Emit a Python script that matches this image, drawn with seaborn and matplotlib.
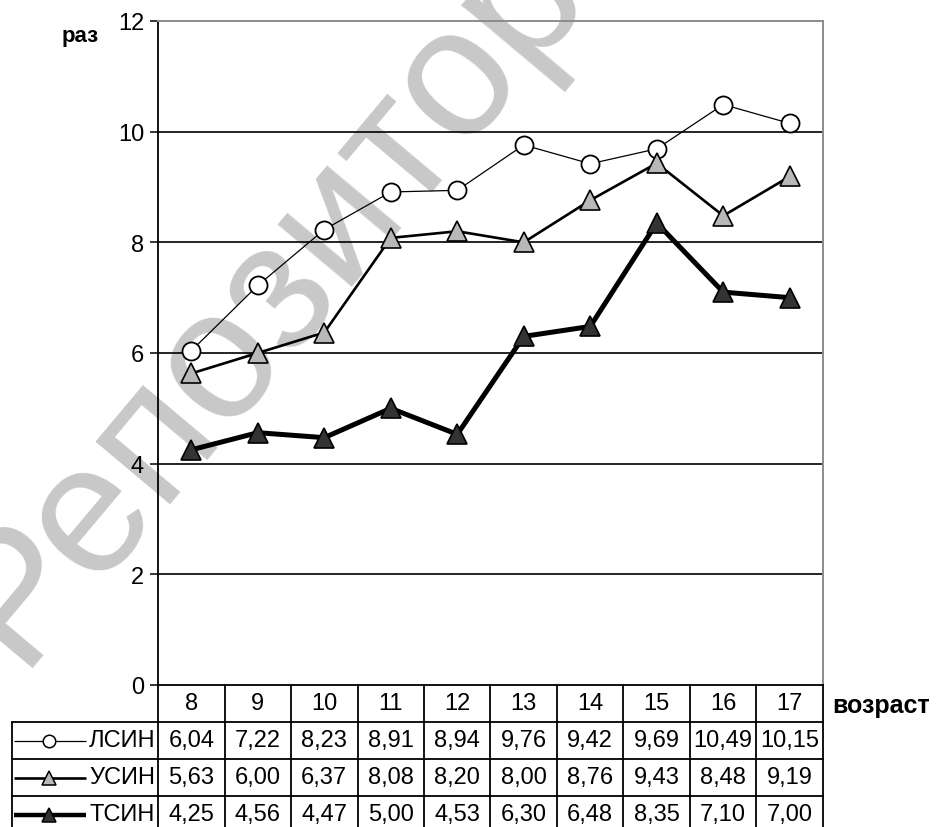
import matplotlib
matplotlib.use("Agg")
import matplotlib.pyplot as plt
import seaborn as sns
import pandas as pd

# --- data -------------------------------------------------------------
ages = [8, 9, 10, 11, 12, 13, 14, 15, 16, 17]
lsin = [6.04, 7.22, 8.23, 8.91, 8.94, 9.76, 9.42, 9.69, 10.49, 10.15]
usin = [5.63, 6.00, 6.37, 8.08, 8.20, 8.00, 8.76, 9.43, 8.48, 9.19]
tsin = [4.25, 4.56, 4.47, 5.00, 4.53, 6.30, 6.48, 8.35, 7.10, 7.00]
series_names = ["ЛСИН", "УСИН", "ТСИН"]
y_ticks = [0, 2, 4, 6, 8, 10, 12]
y_label = "раз"
x_label = "возраст"

df = pd.DataFrame({"age": ages, "ЛСИН": lsin, "УСИН": usin, "ТСИН": tsin})

sns.set_theme(style="white")
plt.rcParams["font.family"] = ["Liberation Sans", "DejaVu Sans"]

W, H = 943, 828
fig = plt.figure(figsize=(W / 100, H / 100), dpi=100)
fig.patch.set_facecolor("white")

def px_box(x0, y0, x1, y1):
    return [x0 / W, 1 - y1 / H, (x1 - x0) / W, (y1 - y0) / H]

# series styling
styles = {
    "ЛСИН": dict(color="black", lw=0.9, marker="o", ms=13, mfc="white", mew=1.3, glyph_ms=9, glyph_lw=0.9),
    "УСИН": dict(color="black", lw=1.9, marker="^", ms=14, mfc="#b8b8b8", mew=1.2, glyph_ms=10, glyph_lw=1.9),
    "ТСИН": dict(color="black", lw=3.6, marker="^", ms=14, mfc="#333333", mew=1.2, glyph_ms=10, glyph_lw=3.2),
}

# --- main plot --------------------------------------------------------
ax = fig.add_axes(px_box(158, 22, 823, 686))
ax.set_facecolor("none")
for name in series_names:
    st = styles[name]
    sns.lineplot(data=df, x="age", y=name, ax=ax, color=st["color"], lw=st["lw"],
                 marker=st["marker"], markersize=st["ms"], markerfacecolor=st["mfc"],
                 markeredgecolor="black", markeredgewidth=st["mew"], zorder=3)

ax.set_xlim(ages[0] - 0.5, ages[-1] + 0.5)
ax.set_ylim(y_ticks[0], y_ticks[-1])
ax.set_yticks(y_ticks)
ax.set_yticklabels([str(t) for t in y_ticks], fontsize=17, color="black")
ax.set_xticks([])
ax.set_xlabel("")
ax.set_ylabel("")
for y in y_ticks[1:-1]:
    ax.axhline(y, color="black", lw=1.2, zorder=1)
ax.tick_params(axis="y", length=6, width=1.1, color="black", pad=4, left=True)
ax.spines["left"].set_color("black")
ax.spines["left"].set_linewidth(1.3)
ax.spines["bottom"].set_color("black")
ax.spines["bottom"].set_linewidth(1.3)
ax.spines["top"].set_color("#8c8c8c")
ax.spines["top"].set_linewidth(1.4)
ax.spines["right"].set_color("#8c8c8c")
ax.spines["right"].set_linewidth(1.4)

fig.text(80 / W, 1 - 42 / H, y_label, ha="center", va="baseline",
         fontsize=16, fontweight="bold", color="black")
fig.text(832 / W, 1 - 713 / H, x_label, ha="left", va="baseline",
         fontsize=18, fontweight="bold", color="black")

# --- data table under the plot ---------------------------------------
tab = fig.add_axes(px_box(158, 686, 823, 834))
tab.set_facecolor("none")
tab.set_xlim(ages[0] - 0.5, ages[-1] + 0.5)
tab.set_ylim(4, 0)
tab.axis("off")

col_w_px = 665 / len(ages)
def px_to_x(px):
    return ages[0] - 0.5 + (px - 158) / col_w_px

x_left = px_to_x(12)
x_right = ages[-1] + 0.5
lkw = dict(color="black", lw=1.3, clip_on=False)
for k in range(len(ages) + 1):
    xv = ages[0] - 0.5 + k
    tab.plot([xv, xv], [0, 4], **lkw)
tab.plot([x_left, x_left], [1, 4], **lkw)
for r in (1, 2, 3, 4):
    tab.plot([x_left, x_right], [r, r], **lkw)

for a in ages:
    tab.text(a, 0.5, str(a), ha="center", va="center", fontsize=17, color="black")

rows = {"ЛСИН": lsin, "УСИН": usin, "ТСИН": tsin}
for i, name in enumerate(series_names):
    yc = i + 1.5
    for a, v in zip(ages, rows[name]):
        tab.text(a, yc, f"{v:.2f}".replace(".", ","), ha="center", va="center",
                 fontsize=17, color="black", clip_on=False)
    st = styles[name]
    tab.plot([px_to_x(14), px_to_x(86)], [yc, yc], color="black", lw=st["glyph_lw"],
             clip_on=False, solid_capstyle="butt")
    tab.plot([px_to_x(49)], [yc], marker=st["marker"], ms=st["glyph_ms"],
             mfc=st["mfc"], mec="black", mew=1.1, clip_on=False, ls="none")
    tab.text(px_to_x(155), yc, name, ha="right", va="center", fontsize=17,
             color="black", clip_on=False)

# repository watermark
fig.text(18 / W, 1 - 668 / H, "Репозиторий", rotation=50, rotation_mode="anchor",
         ha="left", va="baseline", fontsize=132, color="#c8c8c8", zorder=-1)

fig.savefig("out.png", dpi=100, facecolor="white")
